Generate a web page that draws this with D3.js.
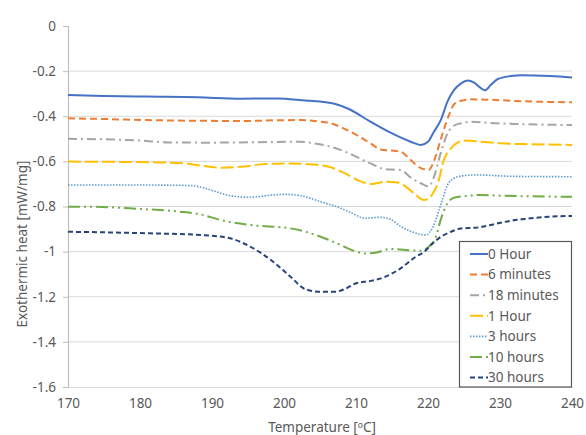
<!DOCTYPE html>
<html>
<head>
<meta charset="utf-8">
<script src="https://cdn.jsdelivr.net/npm/d3@7"></script>
<style>
  html, body { margin: 0; padding: 0; background: #fff; }
  svg { display: block; font-family: "Noto Sans", sans-serif; }
</style>
</head>
<body>
<svg id="chart" width="586" height="435"></svg>
<script>
// DSC traces: [temperature °C, exothermic heat mW/mg]
const hour0 = [[170,-0.306],[175,-0.31],[181,-0.313],[188,-0.316],[194,-0.322],[199,-0.321],[203,-0.33],[205,-0.335],[207,-0.345],[209,-0.368],[212,-0.424],[214.8,-0.473],[217.6,-0.513],[219,-0.527],[220,-0.513],[220.8,-0.47],[221.8,-0.415],[222.7,-0.335],[223.6,-0.284],[224.6,-0.254],[225.5,-0.242],[226.4,-0.251],[227.3,-0.274],[227.9,-0.285],[228.7,-0.262],[229.7,-0.235],[231.5,-0.222],[233,-0.218],[237,-0.222],[240,-0.228]];
const min6 = [[170,-0.409],[176,-0.413],[181,-0.417],[188,-0.42],[194,-0.421],[199,-0.418],[202.3,-0.417],[204.5,-0.422],[206.5,-0.431],[208,-0.45],[209.2,-0.468],[212,-0.52],[213.4,-0.547],[214.8,-0.552],[216.2,-0.557],[217.6,-0.594],[219,-0.63],[220.1,-0.638],[220.8,-0.6],[221.8,-0.5],[222.5,-0.43],[223.1,-0.38],[223.6,-0.348],[224.6,-0.331],[226,-0.325],[228.7,-0.327],[232,-0.332],[236,-0.336],[240,-0.338]];
const min18 = [[170,-0.5],[176,-0.503],[180,-0.508],[184,-0.516],[190,-0.517],[196,-0.515],[202.3,-0.513],[203.7,-0.518],[206.5,-0.535],[209,-0.564],[212,-0.609],[214.1,-0.635],[216.2,-0.638],[217.6,-0.672],[219,-0.697],[220.1,-0.712],[220.7,-0.68],[221.8,-0.56],[222.7,-0.476],[223.6,-0.442],[224.6,-0.431],[226,-0.424],[228.7,-0.43],[232,-0.434],[240,-0.439]];
const hour1 = [[170,-0.601],[176,-0.602],[181.4,-0.604],[186.3,-0.609],[188.4,-0.619],[191.4,-0.628],[193.9,-0.624],[197.4,-0.612],[200.9,-0.609],[203.7,-0.613],[206.5,-0.626],[208.5,-0.653],[210.9,-0.692],[212.3,-0.7],[214.1,-0.69],[215.5,-0.692],[216.9,-0.712],[218.3,-0.749],[219.4,-0.771],[220.1,-0.765],[220.8,-0.735],[221.4,-0.694],[222.2,-0.594],[223.2,-0.542],[224.1,-0.517],[225.2,-0.508],[227.3,-0.513],[230.1,-0.52],[234.3,-0.524],[240,-0.527]];
const hour3 = [[170,-0.705],[181.4,-0.705],[187,-0.707],[189.1,-0.72],[190.5,-0.734],[192.5,-0.752],[195.3,-0.759],[198.1,-0.75],[200.2,-0.746],[202.3,-0.752],[205.1,-0.779],[207.9,-0.808],[209.2,-0.826],[211.3,-0.852],[213.4,-0.848],[214.8,-0.857],[216.2,-0.888],[218.3,-0.918],[219.7,-0.926],[220.7,-0.89],[221.8,-0.79],[222.7,-0.705],[223.6,-0.675],[224.6,-0.665],[226.6,-0.66],[231.5,-0.666],[240,-0.668]];
const hour10 = [[170,-0.801],[173.1,-0.801],[180,-0.811],[185.6,-0.823],[188.4,-0.835],[191.2,-0.86],[195.3,-0.882],[200.9,-0.897],[203,-0.912],[205.1,-0.934],[207.9,-0.971],[209.2,-0.99],[211.3,-1.008],[212.7,-1.005],[214.8,-0.988],[216.9,-0.993],[219,-0.996],[220.1,-0.978],[221.1,-0.934],[221.8,-0.855],[222.7,-0.786],[223.7,-0.76],[225.2,-0.754],[227.3,-0.749],[230.1,-0.752],[240,-0.757]];
const hour30 = [[170,-0.912],[176,-0.915],[181.4,-0.919],[188.4,-0.926],[192.5,-0.941],[195.3,-0.978],[198.1,-1.035],[200.9,-1.111],[203,-1.167],[205,-1.178],[207,-1.178],[208.5,-1.165],[210,-1.14],[212,-1.13],[214.1,-1.111],[216.2,-1.074],[218.3,-1.023],[219.5,-1.0],[220.4,-0.971],[221.8,-0.934],[223.2,-0.912],[224.6,-0.897],[226.6,-0.894],[228.7,-0.882],[230.1,-0.872],[231.5,-0.863],[233,-0.857],[237,-0.845],[240,-0.842]];

const seriesNames = ["0 Hour", "6 minutes", "18 minutes", "1 Hour", "3 hours", "10 hours", "30 hours"];
const seriesData = [hour0, min6, min18, hour1, hour3, hour10, hour30];
const seriesColors = ["#4472C4", "#ED7D31", "#A5A5A5", "#FFC000", "#5B9BD5", "#70AD47", "#264478"];
const seriesDash = [null, "7,4", "9,4,2,4", "13,4", "1.5,1.5", "12,4,2,4,2,4", "5,3"];
const seriesWidth = [2, 2, 2, 2, 1.6, 2, 2];

const xTicks = [170, 180, 190, 200, 210, 220, 230, 240];
const yTicks = [0, -0.2, -0.4, -0.6, -0.8, -1, -1.2, -1.4, -1.6];

const svg = d3.select("#chart");
const plotLeft = 68, plotRight = 572, plotTop = 26, plotBottom = 387;
const textColor = "#595959";
const fontStack = "'Noto Sans', sans-serif";

const x = d3.scaleLinear().domain([170, 240]).range([plotLeft, plotRight]);
const y = d3.scaleLinear().domain([0, -1.6]).range([plotTop, plotBottom]);

// horizontal gridlines
svg.append("g")
  .selectAll("line")
  .data(yTicks.filter(d => d < 0 && d > -1.6))
  .join("line")
  .attr("x1", plotLeft).attr("x2", plotRight)
  .attr("y1", d => y(d)).attr("y2", d => y(d))
  .attr("stroke", "#D9D9D9").attr("stroke-width", 1);

// y axis
const yAxis = svg.append("g")
  .attr("transform", `translate(${plotLeft},0)`)
  .call(d3.axisLeft(y).tickValues(yTicks).tickSize(5).tickPadding(7)
    .tickFormat(d => d === 0 ? "0" : String(+d.toFixed(1))));
yAxis.select(".domain").attr("stroke", "#BFBFBF").attr("stroke-width", 1.2);
yAxis.selectAll(".tick line").attr("stroke", "#BFBFBF");
yAxis.selectAll(".tick text").attr("fill", textColor).style("font-size", "13.5px")
  .style("font-family", fontStack);

// x axis
const xAxis = svg.append("g")
  .attr("transform", `translate(0,${plotBottom})`)
  .call(d3.axisBottom(x).tickValues(xTicks).tickSize(0).tickPadding(11));
xAxis.select(".domain").attr("stroke", "#D9D9D9").attr("stroke-width", 1.2);
xAxis.selectAll(".tick text").attr("fill", textColor).style("font-size", "13.5px")
  .style("font-family", fontStack);

// axis titles
svg.append("text")
  .attr("x", 322).attr("y", 432)
  .attr("text-anchor", "middle").attr("fill", textColor)
  .style("font-size", "13.5px")
  .text("Temperature [ºC]");
svg.append("text")
  .attr("transform", "translate(27,244) rotate(-90)")
  .attr("text-anchor", "middle").attr("fill", textColor)
  .style("font-size", "13.5px")
  .text("Exothermic heat [mW/mg]");

// curves
const line = d3.line()
  .x(d => x(d[0])).y(d => y(d[1]))
  .curve(d3.curveMonotoneX);

svg.append("g")
  .selectAll("path")
  .data(seriesData)
  .join("path")
  .attr("d", line)
  .attr("fill", "none")
  .attr("stroke", (d, i) => seriesColors[i])
  .attr("stroke-width", (d, i) => seriesWidth[i])
  .attr("stroke-dasharray", (d, i) => seriesDash[i])
  .attr("stroke-linejoin", "round");

// legend
const lg = svg.append("g");
lg.append("rect")
  .attr("x", 459.5).attr("y", 241.5).attr("width", 112).attr("height", 145.5)
  .attr("fill", "#fff").attr("stroke", "#595959").attr("stroke-width", 1.2);
const items = lg.selectAll("g.item")
  .data(seriesNames)
  .join("g")
  .attr("class", "item")
  .attr("transform", (d, i) => `translate(0,${254 + i * 20.6})`);
items.append("line")
  .attr("x1", 470).attr("x2", 488).attr("y1", 0).attr("y2", 0)
  .attr("stroke", (d, i) => seriesColors[i])
  .attr("stroke-width", (d, i) => seriesWidth[i])
  .attr("stroke-dasharray", (d, i) => seriesDash[i]);
items.append("text")
  .attr("x", 488).attr("y", 0).attr("dy", "0.35em")
  .attr("fill", textColor).style("font-size", "13.5px")
  .text(d => d);
</script>
</body>
</html>
